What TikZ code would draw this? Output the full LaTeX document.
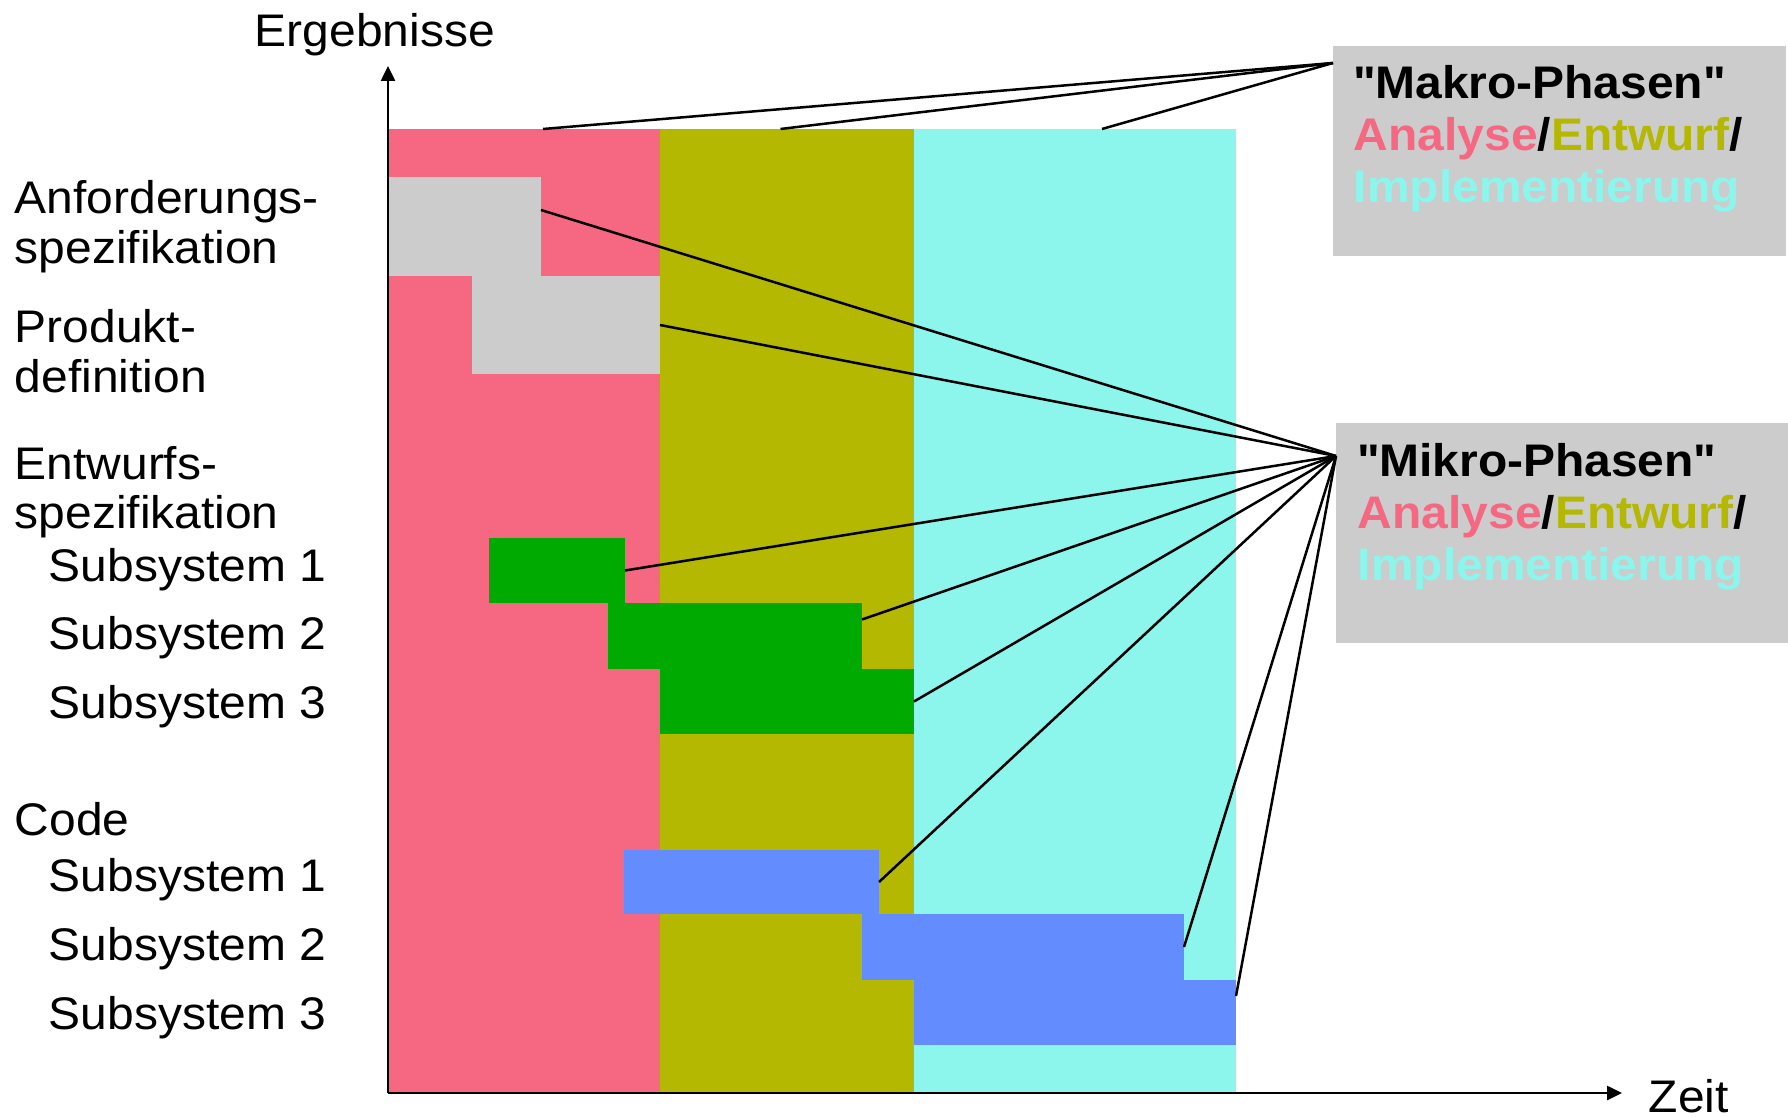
\documentclass[tikz,border=0pt]{standalone}
\usepackage{fontspec}
\setmainfont{Liberation Sans}[FakeStretch=1.05]
\usepackage{xcolor}
\usepackage{tikz}
\usetikzlibrary{arrows.meta, positioning}

\definecolor{analysecol}{RGB}{246,104,130}
\definecolor{entwurfcol}{RGB}{180,184,0}
\definecolor{implcol}{RGB}{140,245,236}
\definecolor{greenbar}{RGB}{0,170,0}
\definecolor{bluebar}{RGB}{99,140,255}
\definecolor{graybar}{RGB}{204,204,204}

\begin{document}
\begin{tikzpicture}[
    x=0.1mm, y=-0.1mm,
    font=\fontsize{13pt}{14pt}\selectfont,
    column/.style={rectangle, fill=#1, draw=none, inner sep=0pt, outer sep=0pt, minimum height=96.5mm, anchor=north west},
    bar/.style={rectangle, fill=#1, draw=none, inner sep=0pt, outer sep=0pt, anchor=north west},
    phasebox/.style={rectangle, fill=graybar, draw=none, inner sep=0pt, outer sep=0pt, anchor=north west},
    phasetext/.style={inner sep=0pt, anchor=north west, align=left, font=\fontsize{13pt}{14.8pt}\selectfont\bfseries},
    lbl/.style={inner sep=0pt, anchor=base west},
    lblml/.style={inner sep=0pt, anchor=north west, align=left},
    link/.style={line width=0.25mm, draw=black},
    axis/.style={-{Triangle[length=1.5mm, width=1.4mm]}, line width=0.25mm}
]
\useasboundingbox (0,0) rectangle (1788,1117);

% Phase columns
\node[column=analysecol, minimum width=27.1mm] (analyse) at (389,129) {};
\node[column=entwurfcol, minimum width=25.4mm] (entwurf) at (660,129) {};
\node[column=implcol, minimum width=32.2mm] (impl) at (914,129) {};

% Result bars
\node[bar=graybar, minimum width=15.2mm, minimum height=9.9mm] (anf) at (389,177) {};
\node[bar=graybar, minimum width=18.8mm, minimum height=9.8mm] (prod) at (472,276) {};
\node[bar=greenbar, minimum width=13.6mm, minimum height=6.5mm] (ent1) at (489,538) {};
\node[bar=greenbar, minimum width=25.4mm, minimum height=6.6mm] (ent2) at (608,603) {};
\node[bar=greenbar, minimum width=25.4mm, minimum height=6.5mm] (ent3) at (660,669) {};
\node[bar=bluebar, minimum width=25.5mm, minimum height=6.4mm] (code1) at (624,850) {};
\node[bar=bluebar, minimum width=32.2mm, minimum height=6.6mm] (code2) at (862,914) {};
\node[bar=bluebar, minimum width=32.2mm, minimum height=6.5mm] (code3) at (914,980) {};

% Phase boxes
\node[phasebox, minimum width=45.3mm, minimum height=21mm] (makro) at (1333,46) {};
\node[phasetext] (makrotext) at (1353,65) {\textquotedbl Makro-Phasen\textquotedbl\\\textcolor{analysecol}{Analyse}/\textcolor{entwurfcol}{Entwurf}/\\\textcolor{implcol}{Implementierung}};
\node[phasebox, minimum width=45.2mm, minimum height=22mm] (mikro) at (1336,423) {};
\node[phasetext] (mikrotext) at (1357,443) {\textquotedbl Mikro-Phasen\textquotedbl\\\textcolor{analysecol}{Analyse}/\textcolor{entwurfcol}{Entwurf}/\\\textcolor{implcol}{Implementierung}};
\coordinate (makrotip) at ([yshift=-1.7mm]makro.north west);
\coordinate (mikrotip) at ([yshift=-3.3mm]mikro.north west);

% Makro links
\draw[link] ([xshift=1.85mm]analyse.north) -- (makrotip);
\draw[link] ([xshift=-0.65mm]entwurf.north) -- (makrotip);
\draw[link] ([xshift=2.7mm]impl.north) -- (makrotip);

% Mikro links
\draw[link] ([yshift=1.65mm]anf.east) -- (mikrotip);
\draw[link] (prod.east) -- (mikrotip);
\draw[link] (ent1.east) -- (mikrotip);
\draw[link] ([yshift=1.65mm]ent2.east) -- (mikrotip);
\draw[link] (ent3.east) -- (mikrotip);
\draw[link] (code1.east) -- (mikrotip);
\draw[link] (code2.east) -- (mikrotip);
\draw[link] ([yshift=1.65mm]code3.east) -- (mikrotip);

% Axes
\coordinate (origin) at (388,1093);
\coordinate (ytip) at (388,66);
\coordinate (xtip) at (1622,1093);
\draw[axis] (origin) -- (ytip);
\draw[axis] (origin) -- (xtip);
\node[inner sep=0pt, anchor=base] (ylabel) at (375,47) {Ergebnisse};
\node[lbl] (xlabel) at (1648,1112) {Zeit};

% Result labels
\node[lblml] (lanf) at (14,180) {Anforderungs-\\spezifikation};
\node[lblml] (lprod) at (14,309) {Produkt-\\definition};
\node[lblml] (lent) at (14,446) {Entwurfs-\\spezifikation};
\node[lbl] (lent1) at (48,582) {Subsystem 1};
\node[lbl] (lent2) at (48,650) {Subsystem 2};
\node[lbl] (lent3) at (48,719) {Subsystem 3};
\node[lbl] (lcode) at (14,835) {Code};
\node[lbl] (lcode1) at (48,892) {Subsystem 1};
\node[lbl] (lcode2) at (48,960) {Subsystem 2};
\node[lbl] (lcode3) at (48,1029) {Subsystem 3};
\end{tikzpicture}
\end{document}
